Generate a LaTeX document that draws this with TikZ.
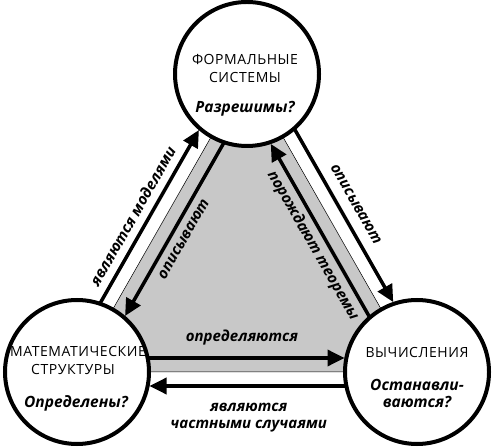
\documentclass[tikz,border=0pt]{standalone}
\usepackage{fontspec}
\setmainfont{Open Sans}
\newfontfamily\capsfont[LetterSpace=4]{Open Sans}
\usetikzlibrary{calc,arrows.meta}
\definecolor{shade}{RGB}{200,200,200}
\pgfdeclarelayer{bg}
\pgfdeclarelayer{mid}
\pgfsetlayers{bg,mid,main}
\begin{document}
\begin{tikzpicture}[x=1pt,y=1pt,
  circ/.style={circle,draw,line width=4pt,fill=white,minimum size=144pt,inner sep=0pt},
  arr/.style={line width=3.5pt,-{Triangle[length=17pt,width=16pt]},shorten <=60pt,shorten >=72.5pt},
  elab/.style={font=\fontsize{15}{17}\selectfont\bfseries\itshape,inner sep=0pt},
  caps/.style={font=\fontsize{14}{17}\selectfont\capsfont,anchor=base,inner sep=0pt},
  quest/.style={font=\fontsize{15.5}{18}\selectfont\bfseries\itshape,anchor=base,inner sep=0pt}]
\useasboundingbox (0,0) rectangle (494,446);
% circles
\node[circ] (FS) at (247,372) {};
\node[circ] (MS) at (77,74) {};
\node[circ] (CS) at (417,74) {};
% circle texts
\node[caps] (fs1) at ($(FS)+(-2,9)$) {ФОРМАЛЬНЫЕ};
\node[caps] (fs2) at ($(FS)+(-2,-9)$) {СИСТЕМЫ};
\node[quest] (fs3) at ($(FS)+(-2,-39)$) {Разрешимы?};
\node[caps] (ms1) at ($(MS)+(1,15)$) {МАТЕМАТИЧЕСКИЕ};
\node[caps] (ms2) at ($(MS)+(-4,-3)$) {СТРУКТУРЫ};
\node[quest] (ms3) at ($(MS)+(-1,-36)$) {Определены?};
\node[caps] (cs1) at ($(CS)+(0,14)$) {ВЫЧИСЛЕНИЯ};
\node[quest] (cs2) at ($(CS)+(0,-19)$) {Останавли-};
\node[quest] (cs3) at ($(CS)+(0,-36)$) {ваются?};
% gray triangle
\begin{pgfonlayer}{bg}
\draw[fill=shade,line width=0.5pt] (FS.center) -- (MS.center) -- (CS.center) -- cycle;
\end{pgfonlayer}
% arrows
\begin{pgfonlayer}{mid}
\draw[arr] ($(MS)!14pt!90:(FS)$) -- ($(FS)!14pt!-90:(MS)$);
\draw[arr] ($(FS)!14pt!90:(MS)$) -- ($(MS)!14pt!-90:(FS)$);
\draw[arr] ($(FS)!14pt!90:(CS)$) -- ($(CS)!14pt!-90:(FS)$);
\draw[arr] ($(CS)!14pt!90:(FS)$) -- ($(FS)!14pt!-90:(CS)$);
\draw[arr] ($(MS)!14pt!90:(CS)$) -- ($(CS)!14pt!-90:(MS)$);
\draw[arr] ($(CS)!14pt!90:(MS)$) -- ($(MS)!14pt!-90:(CS)$);
\end{pgfonlayer}
% edge labels
\node[elab,rotate=60.3] (l1) at ($(MS)!0.475!(FS)!29pt!90:(FS)$) {являются моделями};
\node[elab,rotate=60.3] (l2) at ($(MS)!0.49!(FS)!27pt!-90:(FS)$) {описывают};
\node[elab,rotate=-60.3] (l3) at ($(FS)!0.487!(CS)!30pt!90:(CS)$) {описывают};
\node[elab,rotate=-60.3] (l4) at ($(FS)!0.53!(CS)!28pt!-90:(CS)$) {порождают теоремы};
\node[elab] (l5) at ($(MS)!0.485!(CS)!34pt!90:(CS)$) {определяются};
\node[elab,align=center] (l6) at ($(MS)!0.505!(CS)!46pt!-90:(CS)$) {являются\\частными случаями};
\end{tikzpicture}
\end{document}
